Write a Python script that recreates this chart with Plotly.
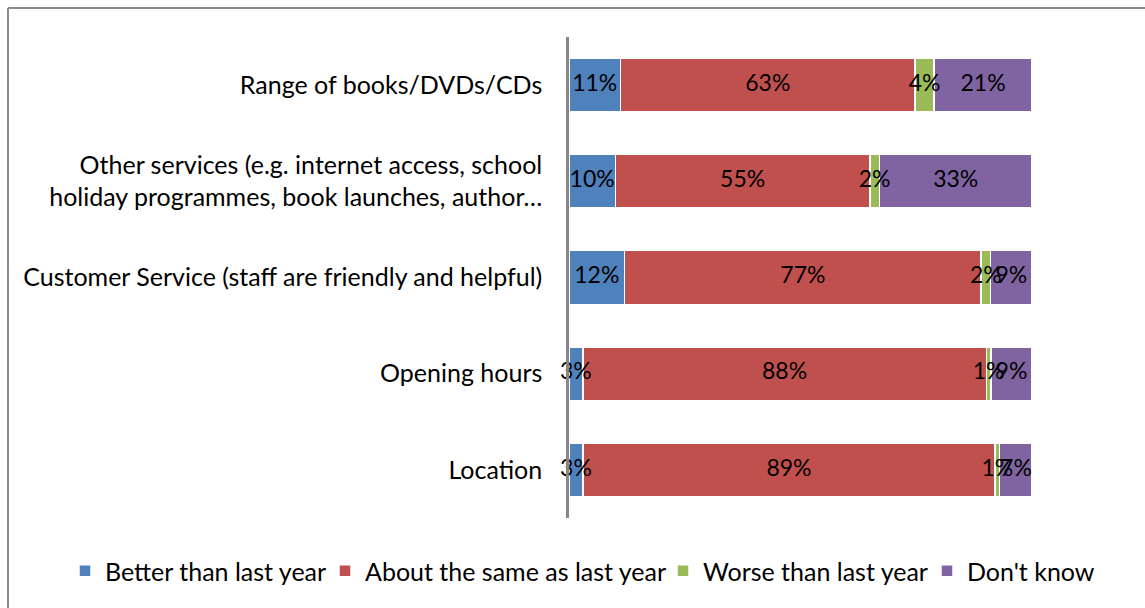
import plotly.graph_objects as go

categories = [
    "Range of books/DVDs/CDs",
    "Other services (e.g. internet access, school<br>holiday programmes, book launches, author…",
    "Customer Service (staff are friendly and helpful)",
    "Opening hours",
    "Location",
]
better = [11, 10, 12, 3, 3]
same = [63, 55, 77, 88, 89]
worse = [4, 2, 2, 1, 1]
dont_know = [21, 33, 9, 9, 7]

series_names = ["Better than last year", "About the same as last year",
                "Worse than last year", "Don't know"]
series_values = [better, same, worse, dont_know]
series_colors = ["#4F81BD", "#C0504D", "#9BBB59", "#8064A2"]

FONT = "Lato"
TICK_SIZE = 25
LABEL_SIZE = 23

W, H = 1145, 608
ml, mr, mt, mb = 569, 111, 37, 90
pw, ph = W - ml - mr, H - mt - mb

def px_x(p):
    return (p - ml) / pw

def px_y(p):
    return (H - mb - p) / ph

legend_ids = ["legend", "legend2", "legend3", "legend4"]
legend_text_left = [105, 365, 703, 967]   # pixel positions of legend texts

fig = go.Figure()
for name, vals, color, lid in zip(series_names, series_values, series_colors, legend_ids):
    fig.add_trace(go.Bar(
        name=name,
        y=categories,
        x=vals,
        orientation="h",
        marker=dict(color=color, line=dict(color="white", width=1.5)),
        width=0.56,
        hoverinfo="skip",
        legend=lid,
    ))

# data labels drawn above all bars, centred in each (normalised) segment
totals = [sum(v[i] for v in series_values) for i in range(len(categories))]
cum = [0.0] * len(categories)
for vals in series_values:
    mids = []
    for i, v in enumerate(vals):
        share = 100.0 * v / totals[i]
        mids.append(cum[i] + share / 2)
        cum[i] += share
    fig.add_trace(go.Scatter(
        x=mids, y=categories, mode="text",
        text=[f"{v}%" for v in vals],
        textposition="middle center",
        textfont=dict(family=FONT, size=LABEL_SIZE, color="black"),
        showlegend=False, cliponaxis=False, hoverinfo="skip",
    ))

legend_layouts = {}
for lid, tx in zip(legend_ids, legend_text_left):
    legend_layouts[lid] = dict(
        orientation="h",
        xref="container", yref="paper",
        x=(tx - 40) / W, xanchor="left",
        y=px_y(571), yanchor="middle",
        font=dict(family=FONT, size=TICK_SIZE, color="black"),
        itemwidth=30,
        bgcolor="rgba(0,0,0,0)",
    )

fig.update_layout(
    width=W, height=H,
    barmode="stack",
    barnorm="percent",
    margin=dict(l=ml, r=mr, t=mt, b=mb, autoexpand=False),
    paper_bgcolor="white",
    plot_bgcolor="white",
    font=dict(family=FONT, size=TICK_SIZE, color="black"),
    xaxis=dict(visible=False, range=[0, 100.4], fixedrange=True),
    yaxis=dict(
        autorange="reversed",
        showline=True, linecolor="#868686", linewidth=2.5,
        ticks="", showgrid=False, zeroline=False,
        ticklabelstandoff=19,
        tickfont=dict(family=FONT, size=TICK_SIZE, color="black"),
    ),
    shapes=[
        dict(type="line", xref="paper", yref="paper",
             x0=px_x(8), x1=px_x(1160), y0=px_y(8), y1=px_y(8),
             line=dict(color="#8c8c8c", width=2)),
        dict(type="line", xref="paper", yref="paper",
             x0=px_x(8), x1=px_x(8), y0=px_y(8), y1=px_y(620),
             line=dict(color="#8c8c8c", width=2)),
    ],
    showlegend=True,
    **legend_layouts,
)

fig.write_html("out.html")
